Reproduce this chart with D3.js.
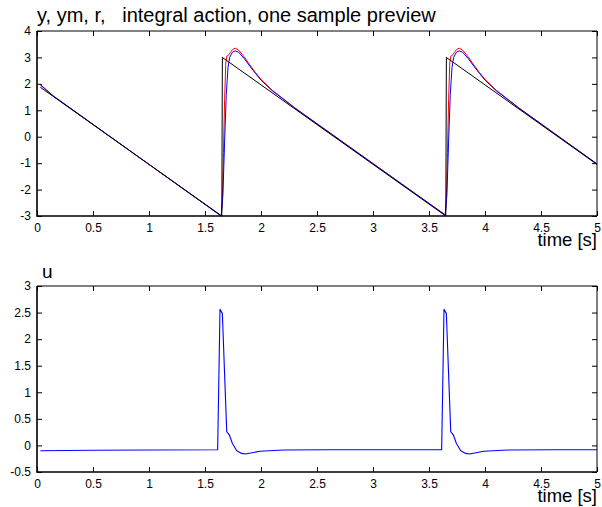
<!DOCTYPE html>
<html>
<head>
<meta charset="utf-8">
<script src="https://cdn.jsdelivr.net/npm/d3@7"></script>
<style>
  body { margin: 0; background: #fff; }
  text { font-family: "Liberation Sans", Arial, sans-serif; fill: #000; }
  .tick line { stroke: #000; }
</style>
</head>
<body>
<svg id="chart" width="602" height="507"></svg>
<script>
// x ticks shared by both plots
let xTicks = [0, 0.5, 1, 1.5, 2, 2.5, 3, 3.5, 4, 4.5, 5];
let yTicksTop = [-3, -2, -1, 0, 1, 2, 3, 4];
let yTicksBot = [-0.5, 0, 0.5, 1, 1.5, 2, 2.5, 3];

// reference r (black sawtooth)
let rT = [0.03, 1.65, 1.655, 3.65, 3.655, 5.0];
let rV = [1.87, -3.0, 3.0, -3.0, 3.0, -1.05];

// y (red)
let yT = [0.03, 0.15, 1.645, 1.655, 1.665, 1.675, 1.685, 1.695, 1.71, 1.725, 1.745, 1.77, 1.8, 1.85, 1.9, 1.95, 2.0, 2.1, 2.2, 2.3,
  3.645, 3.655, 3.665, 3.675, 3.685, 3.695, 3.71, 3.725, 3.745, 3.77, 3.8, 3.85, 3.9, 3.95, 4.0, 4.1, 4.2, 4.3, 5.0];
let yV = [1.95, 1.52, -3.0, -2.4, -0.6, 1.4, 2.75, 3.05, 3.08, 3.18, 3.3, 3.35, 3.28, 3.02, 2.72, 2.43, 2.17, 1.76, 1.43, 1.1,
  -2.96, -2.4, -0.6, 1.4, 2.75, 3.05, 3.08, 3.18, 3.3, 3.35, 3.28, 3.02, 2.72, 2.43, 2.17, 1.76, 1.43, 1.1, -1.03];

// ym (blue)
let ymT = [0.03, 0.15, 1.645, 1.66, 1.675, 1.69, 1.705, 1.72, 1.745, 1.77, 1.8, 1.85, 1.9, 1.95, 2.0, 2.1, 2.2, 2.3,
  3.645, 3.66, 3.675, 3.69, 3.705, 3.72, 3.745, 3.77, 3.8, 3.85, 3.9, 3.95, 4.0, 4.1, 4.2, 4.3, 5.0];
let ymV = [1.97, 1.53, -3.0, -2.2, -0.2, 1.6, 2.6, 3.0, 3.2, 3.25, 3.2, 2.96, 2.67, 2.4, 2.14, 1.74, 1.42, 1.09,
  -2.96, -2.2, -0.2, 1.6, 2.6, 3.0, 3.2, 3.25, 3.2, 2.96, 2.67, 2.4, 2.14, 1.74, 1.42, 1.09, -1.03];

// control signal u
let uT = [0.03, 0.5, 1.0, 1.613, 1.634, 1.655, 1.694, 1.717, 1.744, 1.783, 1.827, 1.86, 1.99, 2.2, 2.6, 3.0,
  3.613, 3.634, 3.655, 3.694, 3.717, 3.744, 3.783, 3.827, 3.86, 3.99, 4.2, 4.6, 5.0];
let uV = [-0.1, -0.09, -0.085, -0.08, 2.56, 2.48, 0.26, 0.2, 0.04, -0.1, -0.15, -0.16, -0.11, -0.085, -0.08, -0.08,
  -0.08, 2.56, 2.48, 0.26, 0.2, 0.04, -0.1, -0.15, -0.16, -0.11, -0.085, -0.08, -0.08];

const svg = d3.select('#chart');
const left = 37, right = 597;

function zip(ts, vs) {
  return ts.map((t, i) => ({x: t, y: vs[i]}));
}

function panel(top, bottom, yDomain, yTicks, series) {
  let x = d3.scaleLinear().domain([0, 5]).range([left, right]);
  let y = d3.scaleLinear().domain(yDomain).range([bottom, top]);
  let g = svg.append('g');
  let fmt = d => String(d);

  g.append('g').attr('transform', `translate(0,${bottom})`)
    .call(d3.axisBottom(x).tickValues(xTicks).tickSize(-5).tickSizeOuter(0).tickPadding(7).tickFormat(fmt))
    .call(a => a.select('.domain').remove())
    .selectAll('text').attr('font-size', 12);
  g.append('g').attr('transform', `translate(0,${top})`)
    .call(d3.axisTop(x).tickValues(xTicks).tickSize(-5).tickSizeOuter(0).tickFormat(''))
    .call(a => a.select('.domain').remove());
  g.append('g').attr('transform', `translate(${left},0)`)
    .call(d3.axisLeft(y).tickValues(yTicks).tickSize(-5).tickSizeOuter(0).tickPadding(6).tickFormat(fmt))
    .call(a => a.select('.domain').remove())
    .selectAll('text').attr('font-size', 12);
  g.append('g').attr('transform', `translate(${right},0)`)
    .call(d3.axisRight(y).tickValues(yTicks).tickSize(-5).tickSizeOuter(0).tickFormat(''))
    .call(a => a.select('.domain').remove());
  g.selectAll('.tick text').attr('font-family', '"Liberation Sans", Arial, sans-serif').attr('fill', '#000');

  let line = d3.line().x(d => x(d.x)).y(d => y(d.y));
  series.forEach(s => {
    g.append('path')
      .attr('d', line(s.data))
      .attr('fill', 'none')
      .attr('stroke', s.color)
      .attr('stroke-width', s.width || 1)
      .attr('stroke-linejoin', 'round');
  });

  // axes box, heavier on the left and bottom like the original print
  g.append('path').attr('d', `M${left},${top}H${right}V${bottom}`)
    .attr('fill', 'none').attr('stroke', '#000').attr('stroke-width', 1);
  g.append('path').attr('d', `M${left},${top}V${bottom}H${right}`)
    .attr('fill', 'none').attr('stroke', '#000').attr('stroke-width', 1.6);

  g.append('text').attr('x', right).attr('y', bottom + 30)
    .attr('text-anchor', 'end').attr('font-size', 18.5).text('time [s]');
  return g;
}

panel(31, 216, [-3, 4], yTicksTop, [
  {data: zip(yT, yV), color: '#ff0000'},
  {data: zip(ymT, ymV), color: '#0000ff'},
  {data: zip(rT, rV), color: '#000000'}
]);

panel(286, 472, [-0.5, 3], yTicksBot, [
  {data: zip(uT, uV), color: '#0000ff', width: 1.1}
]);

svg.append('text').attr('x', 37).attr('y', 22).attr('font-size', 20)
  .attr('xml:space', 'preserve').style('white-space', 'pre')
  .text('y, ym, r,   integral action, one sample preview');
svg.append('text').attr('x', 42).attr('y', 278).attr('font-size', 19).text('u');
</script>
</body>
</html>
